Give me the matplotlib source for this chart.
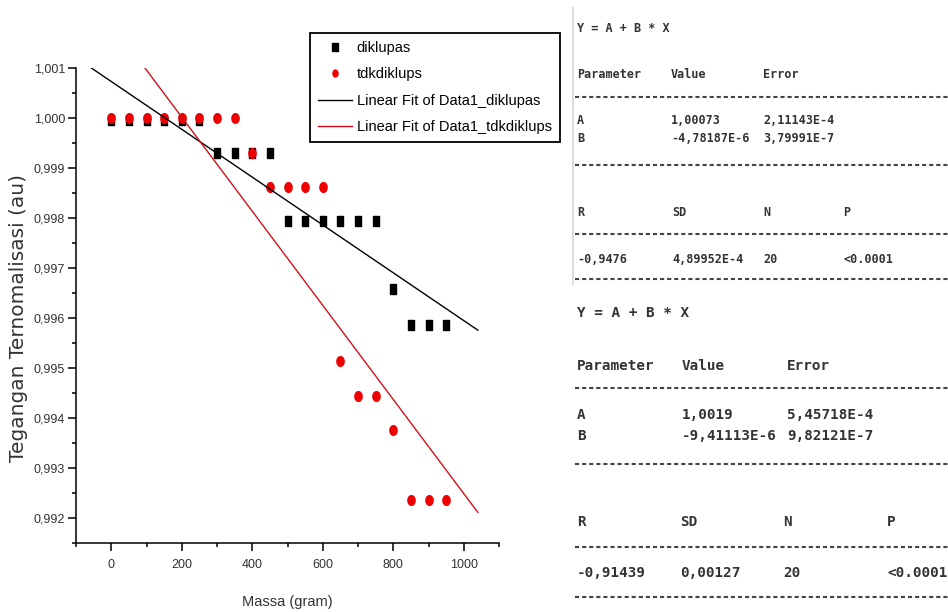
import numpy as np
import matplotlib.pyplot as plt
from matplotlib.lines import Line2D
from matplotlib.ticker import FixedLocator, MultipleLocator, FuncFormatter


# data
massa = [0, 50, 100, 150, 200, 250, 300, 350, 400, 450,
         500, 550, 600, 650, 700, 750, 800, 850, 900, 950]

diklupas = [0.99996, 0.99996, 0.99996, 0.99996, 0.99996, 0.99996,
            0.99929, 0.99929, 0.99929, 0.99929,
            0.99793, 0.99793, 0.99793, 0.99793, 0.99793, 0.99793,
            0.99658, 0.99586, 0.99586, 0.99586]

tdkdiklups = [1.00000, 1.00000, 1.00000, 1.00000, 1.00000, 1.00000,
              1.00000, 1.00000, 0.99929, 0.99862,
              0.99862, 0.99862, 0.99862, 0.99514, 0.99444, 0.99444,
              0.99376, 0.99237, 0.99237, 0.99237]

# linear fit results (Origin output)
fit1_params = [1.00073, -4.78187e-6]
fit1_errors = [2.11143e-4, 3.79991e-7]
fit1_stats = [-0.9476, 4.89952e-4, 20, "<0.0001"]

fit2_params = [1.0019, -9.41113e-6]
fit2_errors = [5.45718e-4, 9.82121e-7]
fit2_stats = [-0.91439, 0.00127, 20, "<0.0001"]

fit_span = [-60, 1040]

y_ticks = [0.992, 0.993, 0.994, 0.995, 0.996, 0.997, 0.998, 0.999, 1.000, 1.001]
x_ticks = [0, 200, 400, 600, 800, 1000]


W, H = 948, 612
SANS = ["Liberation Sans", "DejaVu Sans"]
MONO = ["DejaVu Sans Mono"]


def px(x, y):
    return x / W, 1 - y / H


def origin_fmt(v):
    if isinstance(v, str):
        return v
    if isinstance(v, int):
        return str(v)
    if v != 0 and abs(v) < 1e-3:
        e = int(np.floor(np.log10(abs(v))))
        s = f"{v / 10 ** e:.5f}E{e}"
    else:
        s = f"{v:.6g}"
    return s.replace(".", ",")


fig = plt.figure(figsize=(W / 100, H / 100), dpi=100)

ax = fig.add_axes([76 / W, 1 - 543 / H, (499 - 76) / W, (543 - 68) / H])

# markers a bit taller than wide, as in the picture
theta = np.linspace(0, 2 * np.pi, 41)
ellipse = list(zip(0.78 * np.cos(theta), np.sin(theta)))
rect = [(-0.72, -1), (0.72, -1), (0.72, 1), (-0.72, 1), (-0.72, -1)]

ax.plot(massa, diklupas, linestyle="none", marker=rect,
        markersize=7, color="black", label="diklupas", zorder=3)
ax.plot(massa, tdkdiklups, linestyle="none", marker=ellipse,
        markersize=8, color="#ee0000", markeredgewidth=0,
        label="tdkdiklups", zorder=4)

xs = np.array(fit_span, dtype=float)
ax.plot(xs, fit1_params[0] + fit1_params[1] * xs, color="black",
        linewidth=1.0, label="Linear Fit of Data1_diklupas", zorder=5)
ax.plot(xs, fit2_params[0] + fit2_params[1] * xs, color="#d0101e",
        linewidth=1.0, label="Linear Fit of Data1_tdkdiklups", zorder=5)

ax.set_xlim(-100, 1100)
ax.set_ylim(0.9915, 1.001)

ax.xaxis.set_major_locator(FixedLocator(x_ticks))
ax.xaxis.set_minor_locator(MultipleLocator(100))
ax.yaxis.set_major_locator(FixedLocator(y_ticks))
ax.yaxis.set_minor_locator(MultipleLocator(0.0005))
ax.yaxis.set_major_formatter(
    FuncFormatter(lambda v, pos: f"{v:.3f}".replace(".", ","))
)

for side in ["top", "right"]:
    ax.spines[side].set_visible(False)
for side in ["left", "bottom"]:
    ax.spines[side].set_linewidth(1.1)

ax.tick_params(which="major", direction="out", length=5.8, width=1.1,
               labelsize=9, labelcolor="#333333")
ax.tick_params(which="minor", direction="out", length=2.9, width=1.1)
ax.tick_params(axis="x", which="major", pad=6)
ax.tick_params(axis="y", which="major", pad=2)
for lab in ax.get_xticklabels() + ax.get_yticklabels():
    lab.set_family(SANS)

ax.set_xlabel("Massa (gram)", family=SANS, fontsize=10.5,
              color="#333333", labelpad=17)
ax.set_ylabel("Tegangan Ternomalisasi (au)", family=["DejaVu Sans"],
              fontsize=14.5, color="#333333", va="center")
ax.yaxis.set_label_coords(-0.137, 0.474)

ax.legend(loc="upper left", bbox_to_anchor=px(310, 33),
          bbox_transform=fig.transFigure, borderaxespad=0,
          prop={"family": SANS, "size": 10.5}, numpoints=1,
          markerscale=0.75, handlelength=2.3, handletextpad=0.35,
          labelspacing=0.85, borderpad=0.55, fancybox=False,
          framealpha=1, edgecolor="black")
ax.get_legend().get_frame().set_linewidth(1.3)


# Origin results log text on the right
def txt(x, y, s, size):
    fig.text(*px(x, y), s, fontsize=size, family=MONO, weight="bold",
             color="#333333", ha="left", va="center")


def dashed_rule(y):
    fig.add_artist(Line2D([575 / W, 1.0], [1 - y / H] * 2,
                          transform=fig.transFigure, color="#444444",
                          linewidth=1.5, dashes=(2.0, 1.4)))


def draw_fit_table(params, errors, stats, rows_y, cols_x, stat_x, size):
    (eq_y, head_y, rule1, a_y, b_y, rule2,
     stat_head_y, rule3, stat_y, rule4) = rows_y

    txt(cols_x[0], eq_y, "Y = A + B * X", size)

    for label, x in zip(["Parameter", "Value", "Error"], cols_x):
        txt(x, head_y, label, size)

    for name, val, err, y in zip(["A", "B"], params, errors, [a_y, b_y]):
        txt(cols_x[0], y, name, size)
        txt(cols_x[1], y, origin_fmt(val), size)
        txt(cols_x[2], y, origin_fmt(err), size)

    for label, x in zip(["R", "SD", "N", "P"], stat_x):
        txt(x, stat_head_y, label, size)
    for val, x in zip(stats, stat_x):
        txt(x, stat_y, origin_fmt(val), size)

    for y in [rule1, rule2, rule3, rule4]:
        dashed_rule(y)


fig.add_artist(Line2D([573 / W] * 2, [1 - 8 / H, 1 - 284 / H],
                      transform=fig.transFigure, color="#dddddd",
                      linewidth=1.5))

draw_fit_table(fit1_params, fit1_errors, fit1_stats,
               [28, 74, 97, 120, 138, 165, 212, 234, 259, 279],
               [577, 671, 763], [577, 672, 763, 843], 8.5)

draw_fit_table(fit2_params, fit2_errors, fit2_stats,
               [313, 366, 388, 415, 436, 464, 522, 547, 573, 597],
               [577, 682, 787], [577, 680, 783, 887], 10.3)

fig.savefig("out.png", dpi=100)
plt.close(fig)
